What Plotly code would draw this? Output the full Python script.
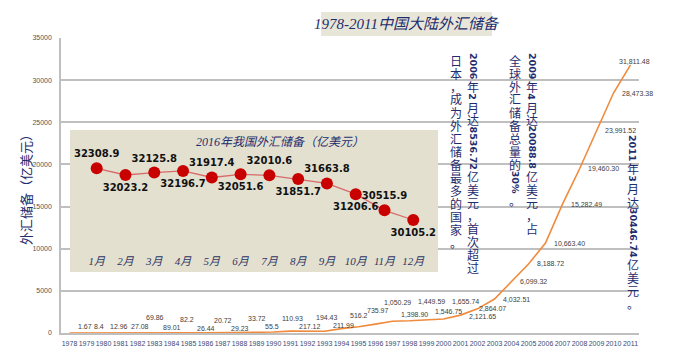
import plotly.graph_objects as go

# ---------------- data ----------------
YEARS = [str(y) for y in range(1978, 2012)]
RESERVES = [1.67, 8.4, 12.96, 27.08, 69.86, 89.01, 82.2, 26.44, 20.72, 29.23,
            33.72, 55.5, 110.93, 217.12, 194.43, 211.99, 516.2, 735.97, 1050.29,
            1398.90, 1449.59, 1546.75, 1655.74, 2121.65, 2864.07, 4032.51,
            6099.32, 8188.72, 10663.40, 15282.49, 19460.30, 23991.52,
            28473.38, 31811.48]
MONTHS = list(range(1, 13))
MONTH_LABELS = [f"{m}月" for m in MONTHS]
RES_2016 = [32308.9, 32023.2, 32125.8, 32196.7, 31917.4, 32051.6, 32010.6,
            31851.7, 31663.8, 31206.6, 30515.9, 30105.2]
Y_TICKS = [0, 5000, 10000, 15000, 20000, 25000, 30000, 35000]

TITLE = "1978-2011中国大陆外汇储备"
INSET_TITLE = "2016年我国外汇储备（亿美元）"
Y_TITLE = "外汇储备（亿美元）"
NOTE_COLS = [
    "2006年2月达8536.72亿美元，首次超过",
    "日本，成为外汇储备最多的国家。",
    "2009年4月达20088.8亿美元，占",
    "全球外汇储备总量的30%。",
    "2011年3月达30446.74亿美元。",
]

# ---------------- layout helpers ----------------
W, H = 680, 351
ML, MR, MT, MB = 61, 41, 38, 18
PW, PH = W - ML - MR, H - MT - MB


def px2x(px):
    return (px - ML) / PW


def py2y(py):
    return (H - MB - py) / PH


NAVY = "#1F2D6E"
CJK = "Noto Sans CJK SC"
SERIF = "Liberation Serif, Noto Sans CJK SC"

# inset panel geometry (pixels) and its axis scale
BOX_L, BOX_R, BOX_T, BOX_B = 70, 438, 130, 272
M1_PX, M_STEP = 96.7, 28.78          # x pixel of month 1, pixels per month
V_REF, V_REF_PX, V_SCALE = 32308.9, 168.3, 0.02346   # px per unit
X2_RANGE = [1 + (BOX_L - M1_PX) / M_STEP, 1 + (BOX_R - M1_PX) / M_STEP]
Y2_RANGE = [V_REF - (BOX_B - V_REF_PX) / V_SCALE, V_REF + (V_REF_PX - BOX_T) / V_SCALE]

# offsets (px) of the main series' value labels
LABEL_DY = [6, 6, 6, 6, 15, 5, 13, 4, 12, 4, 14, 6, 14, 5, 14, 6, 13, 16, 22,
            7, 19, 8, 18, -1, 0, 0, 0, 0, 0, 0, 0, 0, 0, 3]
LABEL_DX = [6] * 34
LABEL_DX[1] = 5
LABEL_DX[2] = 4
LABEL_DX[3] = 8
LABEL_DX[24] = -1
LABEL_DX[33] = -14


def fmt(v):
    return f"{v:,.2f}" if v >= 1000 else str(v)


fig = go.Figure()

fig.add_trace(go.Scatter(
    x=YEARS, y=RESERVES, mode="lines",
    line=dict(color="#F08A3C", width=1.6),
    hoverinfo="skip", showlegend=False))

# inset panel background (fills the inset subplot)
fig.add_trace(go.Scatter(
    x=[X2_RANGE[0], X2_RANGE[1], X2_RANGE[1], X2_RANGE[0], X2_RANGE[0]],
    y=[Y2_RANGE[0], Y2_RANGE[0], Y2_RANGE[1], Y2_RANGE[1], Y2_RANGE[0]],
    xaxis="x2", yaxis="y2", mode="lines", fill="toself",
    fillcolor="#E3E0D0", line=dict(width=0, color="#E3E0D0"),
    hoverinfo="skip", showlegend=False))

fig.add_trace(go.Scatter(
    x=MONTHS, y=RES_2016, xaxis="x2", yaxis="y2",
    mode="lines+markers+text",
    line=dict(color="#D86A6A", width=1.3),
    marker=dict(color="#C80000", size=12),
    text=[f"{v:.1f}" for v in RES_2016],
    textposition=["top center" if i % 2 == 0 else "bottom center" for i in range(12)],
    textfont=dict(family="DejaVu Sans", size=10, color="#111111", weight="bold"),
    cliponaxis=False, hoverinfo="skip", showlegend=False))

annotations = []
for i, (v, dy, dx) in enumerate(zip(RESERVES, LABEL_DY, LABEL_DX)):
    annotations.append(dict(
        x=i, y=v, xref="x", yref="y", text=fmt(v), showarrow=False,
        xanchor="left", yanchor="middle", xshift=dx, yshift=dy,
        font=dict(family="Liberation Sans", size=7, color="#404040")))

# titles
annotations.append(dict(
    x=px2x(407), y=py2y(24), xref="paper", yref="paper", text=TITLE,
    showarrow=False, xanchor="center", yanchor="middle",
    font=dict(family=SERIF, size=15, color=NAVY, style="italic")))
annotations.append(dict(
    x=px2x(280), y=py2y(142), xref="paper", yref="paper", text=INSET_TITLE,
    showarrow=False, xanchor="center", yanchor="middle",
    font=dict(family=SERIF, size=12, color=NAVY, style="italic")))
annotations.append(dict(
    x=px2x(25), y=py2y(187), xref="paper", yref="paper", text=Y_TITLE,
    showarrow=False, textangle=-90, xanchor="center", yanchor="middle",
    font=dict(family=CJK, size=13, color=NAVY)))

# vertical (top-to-bottom) note columns: upright CJK, rotated digit runs
COL_POS = [(473, 53), (456, 53.5), (532, 53), (515, 53.5), (633, 135)]
PITCH = 13.0


def run_len(s):
    n = 0.0
    for c in s:
        n += 3.2 if c == "." else (9.5 if c == "%" else 6.5)
    return n


for text, (cx, ytop) in zip(NOTE_COLS, COL_POS):
    y = ytop
    i = 0
    while i < len(text):
        c = text[i]
        if c.isascii():
            j = i
            while j < len(text) and text[j].isascii():
                j += 1
            run = text[i:j]
            L = run_len(run)
            annotations.append(dict(
                x=px2x(cx), y=py2y(y + L / 2), xref="paper", yref="paper",
                text=run, showarrow=False, textangle=90, borderpad=0,
                xanchor="center", yanchor="middle",
                font=dict(family="DejaVu Sans", size=9.5, color=NAVY, weight="bold")))
            y += L + 1
            i = j
        else:
            annotations.append(dict(
                x=px2x(cx), y=py2y(y + PITCH / 2), xref="paper", yref="paper",
                text=c, showarrow=False, xanchor="center", yanchor="middle",
                borderpad=0,
                font=dict(family=CJK, size=12, color=NAVY)))
            y += PITCH
            i += 1

shapes = [
    dict(type="rect", xref="paper", yref="paper",
         x0=px2x(321), x1=px2x(492), y0=py2y(36), y1=py2y(12),
         fillcolor="#E8E6D8", line=dict(width=0), layer="below"),
]

fig.update_layout(
    width=W, height=H, autosize=False,
    margin=dict(l=ML, r=MR, t=MT, b=MB, pad=0, autoexpand=False),
    paper_bgcolor="white", plot_bgcolor="rgba(0,0,0,0)",
    showlegend=False,
    annotations=annotations, shapes=shapes,
    xaxis=dict(type="category", range=[-0.5, 33.5], tickangle=0, automargin=False,
               showgrid=False, showline=True, linecolor="#BFBFBF", linewidth=1.5,
               ticks="", tickfont=dict(family="Liberation Sans", size=7, color="#3B4A7A"),
               ticklabelstandoff=3, fixedrange=True),
    yaxis=dict(range=[0, 35000], tickvals=Y_TICKS, tickformat="d", automargin=False,
               showgrid=True, gridcolor="#BFBFBF", gridwidth=1.5,
               zeroline=False, showline=True, linecolor="#BFBFBF", linewidth=1.5,
               ticks="", tickfont=dict(family="Liberation Sans", size=7, color="#555555"),
               ticklabelstandoff=6, fixedrange=True),
    xaxis2=dict(domain=[px2x(BOX_L), px2x(BOX_R)], range=X2_RANGE, anchor="y2",
                tickvals=MONTHS, ticktext=MONTH_LABELS, showgrid=False,
                zeroline=False, showline=False, ticks="", automargin=False,
                ticklabelposition="inside",
                tickfont=dict(family=SERIF, size=11, color="#2E3563", style="italic"),
                ticklabelstandoff=2, fixedrange=True),
    yaxis2=dict(domain=[py2y(BOX_B), py2y(BOX_T)], range=Y2_RANGE,
                anchor="x2", visible=False, automargin=False, fixedrange=True),
)

fig.write_html("out.html")
